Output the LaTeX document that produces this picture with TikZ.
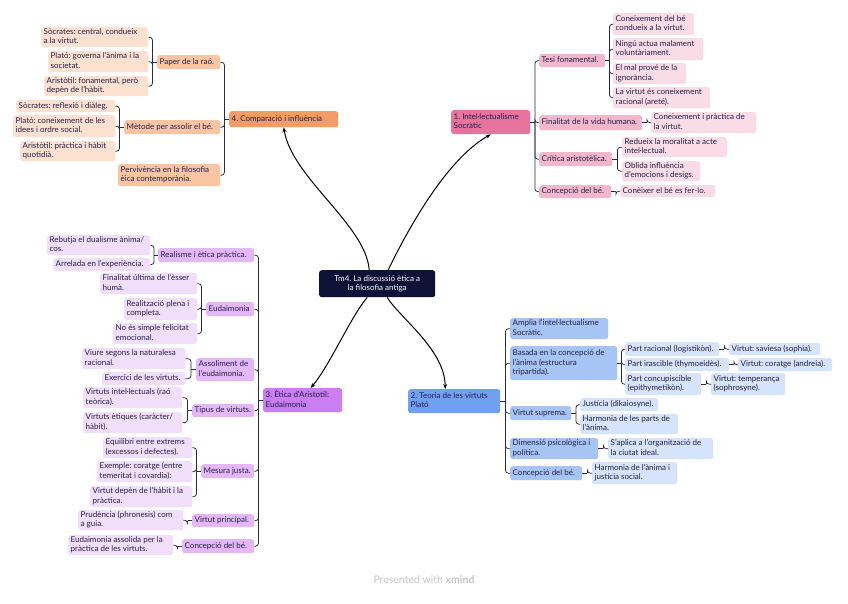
\documentclass[tikz,border=0pt]{standalone}
\usepackage{fontspec}
\setmainfont{Lato}
\usetikzlibrary{arrows.meta,calc}
\definecolor{ink}{HTML}{241F4A}
\definecolor{lnk}{HTML}{2A2A40}
\definecolor{navy}{HTML}{0F1237}
\definecolor{pkT}{HTML}{E8739C}\definecolor{pkC}{HTML}{F3B7CC}\definecolor{pkG}{HTML}{FADCE6}
\definecolor{blT}{HTML}{71A0F2}\definecolor{blC}{HTML}{A6C4F6}\definecolor{blG}{HTML}{D5E3FB}
\definecolor{puT}{HTML}{C97EF2}\definecolor{puC}{HTML}{E4B8F8}\definecolor{puG}{HTML}{F1DEFB}
\definecolor{orT}{HTML}{F59B67}\definecolor{orC}{HTML}{FBC4A2}\definecolor{orG}{HTML}{FDE1D0}
\renewcommand\arraystretch{0.98}
\newcommand\bx[7]{%
  \pgfmathsetmacro\bw{#4-#2-5}\pgfmathsetmacro\bh{#5-#3}\pgfmathsetmacro\bwn{#4-#2}%
  \node[#6, minimum width=\bwn pt, minimum height=\bh pt, anchor=north west] (#1) at (#2,#3)
    {\makebox[\bw pt][l]{\begin{tabular}{@{}l@{}}#7\end{tabular}}};}
\newcommand\cR[3]{\path (#1.east) ++(#3,0) coordinate (jn);
  \draw[conn] (#1.east) -- (jn); \draw[conn,rounded corners=3pt] (jn) |- (#2.west);}
\newcommand\cL[3]{\path (#1.west) ++(-#3,0) coordinate (jn);
  \draw[conn] (#1.west) -- (jn); \draw[conn,rounded corners=3pt] (jn) |- (#2.east);}
\tikzset{
  base/.style={rounded corners=2.5pt, inner xsep=2.5pt, inner ysep=0.5pt,
    font=\fontsize{8}{9.5}\selectfont\frenchspacing, text=ink},
  cen/.style={base, fill=navy, text=white, align=center},
  tA/.style={base, fill=pkT}, cA/.style={base, fill=pkC}, gA/.style={base, fill=pkG},
  tB/.style={base, fill=blT}, cB/.style={base, fill=blC}, gB/.style={base, fill=blG},
  tC/.style={base, fill=puT}, cC/.style={base, fill=puC}, gC/.style={base, fill=puG},
  tD/.style={base, fill=orT}, cD/.style={base, fill=orC}, gD/.style={base, fill=orG},
  conn/.style={draw=lnk, line width=0.75pt},
  mainln/.style={draw=black, line width=1pt, -{Stealth[length=5pt,width=4pt]}}
}
\begin{document}
\begin{tikzpicture}[x=1pt,y=-1pt]
\fill[white] (0,0) rectangle (848,603);
\useasboundingbox (0,0) rectangle (848,603);
% central
\node[cen, minimum width=116pt, minimum height=27pt, anchor=north west] (cen) at (319,270)
  {Tm4. La discussió ètica a\\la filosofia antiga};
% topic 1
\bx{tA}{451}{110}{530}{134}{tA}{1. Intel·lectualisme\\Socràtic}
\bx{a1}{539}{54}{605}{67}{cA}{Tesi fonamental.}
\bx{a11}{613}{13}{694}{35}{gA}{Coneixement del bé\\condueix a la virtut.}
\bx{a12}{613}{38}{703}{60}{gA}{Ningú actua malament\\voluntàriament.}
\bx{a13}{613}{63}{686}{84}{gA}{El mal prové de la\\ignorància.}
\bx{a14}{613}{87}{710}{108}{gA}{La virtut és coneixement\\racional (areté).}
\bx{a2}{539}{115}{642}{130}{cA}{Finalitat de la vida humana.}
\bx{a21}{651}{112}{756}{133}{gA}{Coneixement i pràctica de\\la virtut.}
\bx{a3}{539}{152}{612}{166}{cA}{Crítica aristotèlica.}
\bx{a31}{622}{137}{727}{157}{gA}{Redueix la moralitat a acte\\intel·lectual.}
\bx{a32}{622}{161}{700}{181}{gA}{Oblida influència\\d’emocions i desigs.}
\bx{a4}{539}{185}{611}{198}{cA}{Concepció del bé.}
\bx{a41}{620}{185}{715}{197}{gA}{Conèixer el bé es fer-lo.}
% topic 2
\bx{tB}{408}{389}{500}{413}{tB}{2. Teoria de les virtuts\\Plató}
\bx{b1}{510}{318}{608}{339}{cB}{Amplia l’intel·lectualisme\\Socràtic.}
\bx{b2}{510}{346}{617}{380}{cB}{Basada en la concepció de\\l’ànima (estructura\\tripartida).}
\bx{b21}{625}{342}{719}{356}{gB}{Part racional (logistikòn).}
\bx{b211}{729}{343}{820}{355}{gB}{Virtut: saviesa (sophia).}
\bx{b22}{625}{358}{729}{371}{gB}{Part irascible (thymoeidès).}
\bx{b221}{738}{358}{832}{371}{gB}{Virtut: coratge (andreia).}
\bx{b23}{625}{373}{701}{395}{gB}{Part concupiscible\\(epithymetikòn).}
\bx{b231}{711}{373}{785}{395}{gB}{Virtut: temperança\\(sophrosyne).}
\bx{b3}{510}{406}{571}{420}{cB}{Virtut suprema.}
\bx{b31}{580}{398}{658}{411}{gB}{Justícia (dikaiosyne).}
\bx{b32}{580}{414}{678}{434}{gB}{Harmonia de les parts de\\l’ànima.}
\bx{b4}{510}{438}{598}{459}{cB}{Dimensió psicològica i\\política.}
\bx{b41}{608}{438}{713}{459}{gB}{S’aplica a l’organització de\\la ciutat ideal.}
\bx{b5}{510}{466}{582}{480}{cB}{Concepció del bé.}
\bx{b51}{592}{462}{677}{484}{gB}{Harmonia de l’ànima i\\justícia social.}
% topic 3
\bx{tC}{263}{388}{342}{412}{tC}{3. Ètica d’Aristotil:\\Eudaimonia}
\bx{c1}{158}{248}{254}{262}{cC}{Realisme i ètica pràctica.}
\bx{c11}{47}{235}{150}{255}{gC}{Rebutja el dualisme ànima/\\cos.}
\bx{c12}{53}{258}{150}{271}{gC}{Arrelada en l’experiència.}
\bx{c2}{206}{302}{254}{316}{cC}{Eudaimonia}
\bx{c21}{100}{273}{197}{294}{gC}{Finalitat última de l’èsser\\humà.}
\bx{c22}{124}{298}{197}{320}{gC}{Realització plena i\\completa.}
\bx{c23}{113}{323}{197}{344}{gC}{No és simple felicitat\\emocional.}
\bx{c3}{196}{358}{254}{381}{cC}{Assoliment de\\l’eudaimonia.}
\bx{c31}{82}{348}{185}{369}{gC}{Viure segons la naturalesa\\racional.}
\bx{c32}{102}{372}{185}{385}{gC}{Exercici de les virtuts.}
\bx{c4}{192}{404}{254}{417}{cC}{Tipus de virtuts.}
\bx{c41}{83}{387}{182}{408}{gC}{Virtuts intel·lectuals (raó\\teòrica).}
\bx{c42}{83}{412}{182}{433}{gC}{Virtuts ètiques (caràcter/\\hàbit).}
\bx{c5}{201}{464}{254}{478}{cC}{Mesura justa.}
\bx{c51}{103}{437}{192}{458}{gC}{Equilibri entre extrems\\(excessos i defectes).}
\bx{c52}{97}{461}{192}{482}{gC}{Exemple: coratge (entre\\temeritat i covardia):}
\bx{c53}{90}{486}{192}{507}{gC}{Virtut depèn de l’hàbit i la\\pràctica.}
\bx{c6}{192}{514}{254}{527}{cC}{Virtut principal.}
\bx{c61}{78}{510}{183}{530}{gC}{Prudència (phronesis) com\\a guia.}
\bx{c7}{182}{539}{254}{553}{cC}{Concepció del bé.}
\bx{c71}{68}{535}{173}{555}{gC}{Eudaimonia assolida per la\\pràctica de les virtuts.}
% topic 4
\bx{tD}{229}{111}{338}{127}{tD}{4. Comparació i influència}
\bx{d1}{157}{55}{220}{69}{cD}{Paper de la raó.}
\bx{d11}{41}{27}{148}{47}{gD}{Sòcrates: central, condueix\\a la virtut.}
\bx{d12}{48}{51}{148}{72}{gD}{Plató: governa l’ànima i la\\societat.}
\bx{d13}{44}{76}{148}{96}{gD}{Aristòtil: fonamental, però\\depèn de l’hàbit.}
\bx{d2}{124}{120}{220}{134}{cD}{Mètode per assolir el bé.}
\bx{d21}{16}{100}{115}{112}{gD}{Sòcrates: reflexió i diàleg.}
\bx{d22}{13}{115}{115}{137}{gD}{Plató: coneixement de les\\idees i ordre social.}
\bx{d23}{20}{141}{115}{161}{gD}{Aristòtil: pràctica i hàbit\\quotidià.}
\bx{d3}{118}{164}{220}{186}{cD}{Pervivència en la filosofia\\èica contemporània.}
% connectors topic 1
\foreach \k in {a1,a2,a3,a4}{\cR{tA}{\k}{4.5}}
\foreach \k in {a11,a12,a13,a14}{\cR{a1}{\k}{4}}
\cR{a2}{a21}{4.5}
\foreach \k in {a31,a32}{\cR{a3}{\k}{5}}
\cR{a4}{a41}{4.5}
% connectors topic 2
\foreach \k in {b1,b2,b3,b4,b5}{\cR{tB}{\k}{5}}
\foreach \k in {b21,b22,b23}{\cR{b2}{\k}{4}}
\cR{b21}{b211}{5}\cR{b22}{b221}{4.5}\cR{b23}{b231}{5}
\foreach \k in {b31,b32}{\cR{b3}{\k}{4.5}}
\cR{b4}{b41}{5}\cR{b5}{b51}{5}
% connectors topic 3
\foreach \k in {c1,c2,c3,c4,c5,c6,c7}{\cL{tC}{\k}{4.5}}
\foreach \k in {c11,c12}{\cL{c1}{\k}{4}}
\foreach \k in {c21,c22,c23}{\cL{c2}{\k}{4.5}}
\foreach \k in {c31,c32}{\cL{c3}{\k}{5}}
\foreach \k in {c41,c42}{\cL{c4}{\k}{4.5}}
\foreach \k in {c51,c52,c53}{\cL{c5}{\k}{4.5}}
\cL{c6}{c61}{4.5}\cL{c7}{c71}{4.5}
% connectors topic 4
\foreach \k in {d1,d2,d3}{\cL{tD}{\k}{4.5}}
\foreach \k in {d11,d12,d13}{\cL{d1}{\k}{4.5}}
\foreach \k in {d21,d22,d23}{\cL{d2}{\k}{4.5}}
% main curves
\draw[mainln] ($(cen.north)+(11,0)$) .. controls (405,235) and (445,160) .. (tA.south);
\draw[mainln] ($(cen.north)+(-8,0)$) .. controls (366,225) and (292,178) .. (tD.south);
\draw[mainln] ($(cen.south)+(-10,0)$) .. controls (350,318) and (330,365) .. ($(tC.north)+(8,0)$);
\draw[mainln] ($(cen.south)+(10,0)$) .. controls (400,318) and (445,350) .. ($(tB.north)+(-9,0)$);
% footer
\node[font=\fontsize{10.5}{12}\selectfont, text=black!22] (foot) at (424,580) {Presented with \textbf{xmind}};
\end{tikzpicture}
\end{document}
